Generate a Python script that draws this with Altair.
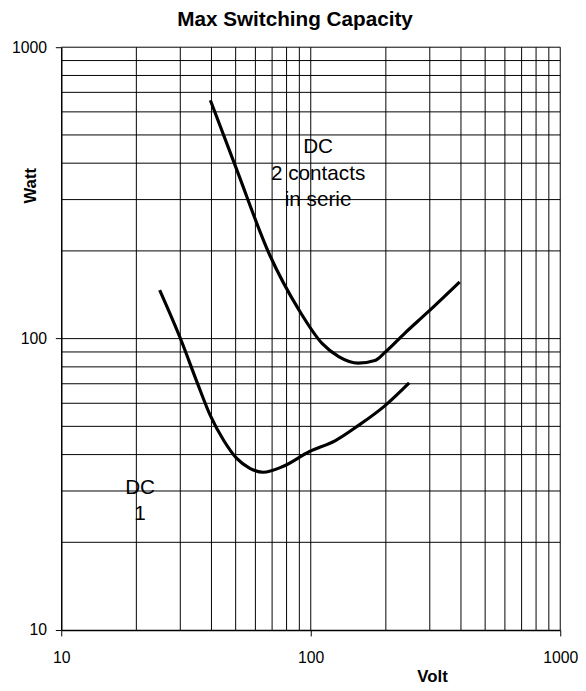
import altair as alt
import pandas as pd

# Curve "DC 2 contacts in serie"
volt_dc2 = [39.6, 50.5, 68.4, 89.9, 111, 129.4, 155, 180.7, 198, 237.4, 293.6, 395]
watt_dc2 = [658, 380, 194, 125, 96.3, 86.8, 82.4, 84.1, 89.6, 104.1, 123, 156.5]

# Curve "DC 1"
volt_dc1 = [24.8, 30.2, 35.1, 39.6, 44.8, 50.5, 57.0, 64.4, 77.3, 98.5, 125.6, 155, 198, 248]
watt_dc1 = [146.7, 98.9, 70.5, 54.4, 44.7, 38.8, 35.9, 34.8, 36.4, 40.9, 44.7, 50.3, 58.8, 70.5]

# Log grid lines
grid_volt = [20, 30, 40, 50, 60, 70, 80, 90, 100, 200, 300, 400, 500, 600, 700, 800, 900, 1000]
grid_watt = [20, 30, 40, 50, 60, 70, 80, 90, 100, 200, 300, 400, 500, 600, 700, 800, 900, 1000]

# Decade tick labels
tick_values = [10, 100, 1000]

# Curve annotations
label_text = ["DC\n2 contacts\nin serie", "DC\n1"]
label_volt = [107, 20.7]
label_watt = [432, 29.3]

FONT = "Liberation Sans"

curves = pd.DataFrame({
    "series": ["DC 2 contacts"] * len(volt_dc2) + ["DC 1"] * len(volt_dc1),
    "order": list(range(len(volt_dc2))) + list(range(len(volt_dc1))),
    "volt": volt_dc2 + volt_dc1,
    "watt": watt_dc2 + watt_dc1,
})
vgrid_df = pd.DataFrame({"volt": grid_volt})
hgrid_df = pd.DataFrame({"watt": grid_watt})
labels_df = pd.DataFrame({"label": label_text, "volt": label_volt, "watt": label_watt})

xs = alt.Scale(type="log", domain=[10, 1000], nice=False)
ys = alt.Scale(type="log", domain=[10, 1000], nice=False)

x_axis = alt.Axis(
    values=tick_values, format="d", grid=False,
    labelFont=FONT, labelFontSize=16, labelColor="black", labelPadding=14,
    labelFlush=False,
    tickColor="black", tickSize=6, tickWidth=1,
    domainColor="black", domainWidth=1.5,
    title="Volt", titleFont=FONT, titleFontSize=17, titleFontWeight="bold",
    titleColor="black", titleX=376, titleY=52, titleAlign="center",
    titleBaseline="alphabetic",
)
y_axis = alt.Axis(
    values=tick_values, format="d", grid=False,
    labelFont=FONT, labelFontSize=16, labelColor="black", labelPadding=9,
    labelFlush=False,
    tickColor="black", tickSize=6, tickWidth=1,
    domainColor="black", domainWidth=1.5,
    title="Watt", titleFont=FONT, titleFontSize=17, titleFontWeight="bold",
    titleColor="black", titleX=-31, titleY=140, titleAlign="center",
    titleBaseline="middle", titleAngle=270,
)

X = alt.X("volt:Q", scale=xs, axis=x_axis)
Y = alt.Y("watt:Q", scale=ys, axis=y_axis)

vgrid = alt.Chart(vgrid_df).mark_rule(color="black", strokeWidth=1).encode(x=X)
hgrid = alt.Chart(hgrid_df).mark_rule(color="black", strokeWidth=1).encode(y=Y)

lines = alt.Chart(curves).mark_line(
    color="black", strokeWidth=3.2, interpolate="monotone"
).encode(
    x=X, y=Y,
    detail="series:N",
    order="order:Q",
)

texts = alt.Chart(labels_df).mark_text(
    font=FONT, fontSize=21, color="black", align="center", baseline="alphabetic",
    lineBreak="\n", lineHeight=26.5,
).encode(x=X, y=Y, text="label:N")

chart = alt.layer(vgrid, hgrid, lines, texts).properties(
    width=506,
    height=591,
    autosize=alt.AutoSizeParams(type="none"),
    padding={"left": 54, "top": 35, "right": 18, "bottom": 53},
    background="white",
    title=alt.TitleParams(
        "Max Switching Capacity", font=FONT, fontSize=21, fontWeight="bold",
        color="black", anchor="middle", dx=-16, dy=16, baseline="alphabetic", offset=9,
    ),
).configure_view(strokeWidth=0)

chart.save("out.html", embed_options={"renderer": "svg", "actions": False})
